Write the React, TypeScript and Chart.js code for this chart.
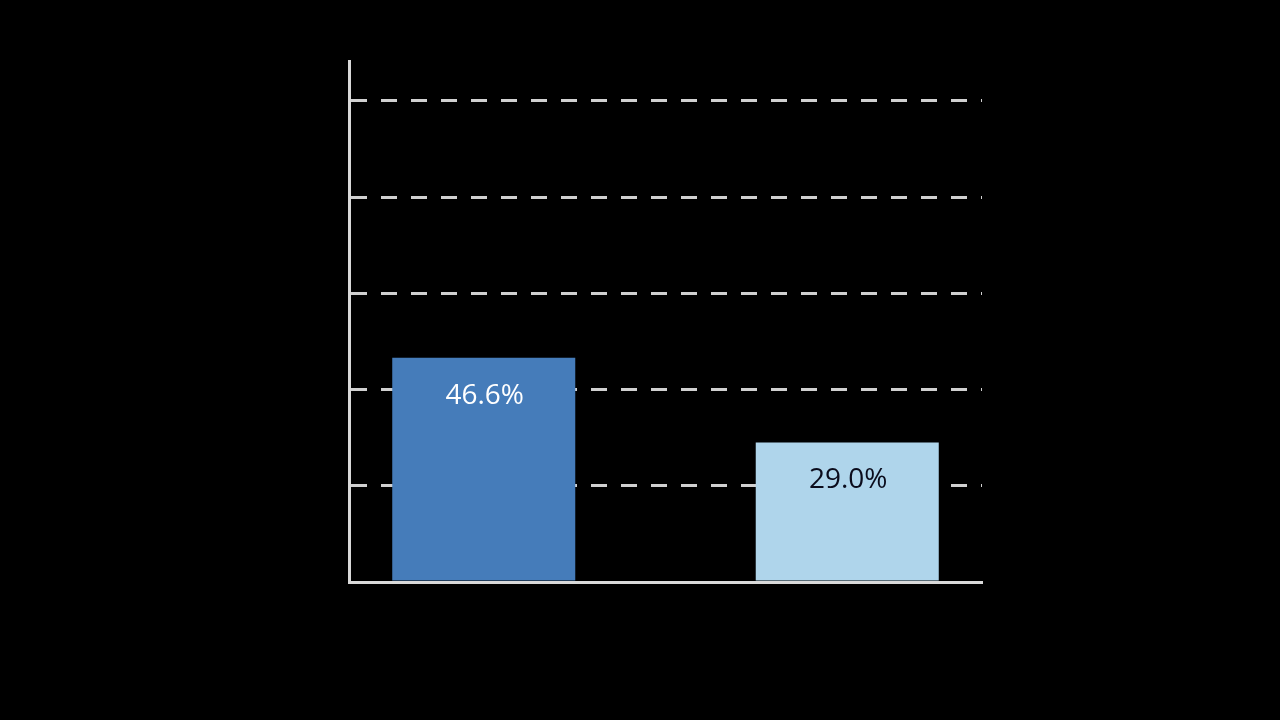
import React, { useEffect, useRef } from "react";
import { Chart, registerables } from "chart.js";

Chart.register(...registerables);

const categories = ["A", "B"];
const seriesFirst = [46.6, null];
const seriesSecond = [null, 29.0];
const valueLabels = ["46.6%", "29.0%"];
const yTickStep = 20;
const yMax = 108.3;

const labelPlugin = {
  id: "valueLabels",
  afterDatasetsDraw(chart: any) {
    const ctx = chart.ctx;
    ctx.save();
    ctx.font = '28px "Open Sans"';
    ctx.textAlign = "center";
    ctx.textBaseline = "middle";
    chart.data.datasets.forEach((ds: any, di: number) => {
      const meta = chart.getDatasetMeta(di);
      meta.data.forEach((bar: any, i: number) => {
        const v = ds.data[i];
        if (v === null || v === undefined) return;
        ctx.fillStyle = di === 0 ? "#ffffff" : "#0b0c1c";
        ctx.fillText(valueLabels[i], bar.x + 1, bar.y + 38);
      });
    });
    ctx.restore();
  },
};

export default function App() {
  const ref = useRef<HTMLCanvasElement>(null);
  useEffect(() => {
    document.body.style.margin = "0";
    document.body.style.background = "#000";
    const chart = new Chart(ref.current!, {
      type: "bar",
      data: {
        labels: categories,
        datasets: [
          { data: seriesFirst as any, backgroundColor: "#457cba", borderWidth: 0 },
          { data: seriesSecond as any, backgroundColor: "#afd5eb", borderWidth: 0 },
        ],
      },
      options: {
        animation: false,
        responsive: false,
        maintainAspectRatio: false,
        layout: { padding: { left: 349, right: 298, top: 61, bottom: 138 } },
        datasets: { bar: { categoryPercentage: 0.297, barPercentage: 3.894 } } as any,
        plugins: { legend: { display: false }, tooltip: { enabled: false } },
        scales: {
          x: {
            afterFit: (s: any) => { s.height = 0; },
            ticks: { display: false },
            grid: { display: false, drawTicks: false },
            border: { display: true, color: "#d9d9d9", width: 3 },
          },
          y: {
            min: 0,
            max: yMax,
            afterFit: (s: any) => { s.width = 0; },
            ticks: { display: false, stepSize: yTickStep, includeBounds: false },
            grid: {
              drawTicks: false,
              lineWidth: 3,
              color: (c: any) => (c.tick && c.tick.value === 0 ? "rgba(0,0,0,0)" : "#d0d0d0"),
            },
            border: { display: true, color: "#d9d9d9", width: 3, dash: [16, 14] },
          },
        },
      },
      plugins: [labelPlugin],
    });
    return () => chart.destroy();
  }, []);
  return (
    <div style={{ width: 1280, height: 720, background: "#000" }}>
      <canvas ref={ref} width={1280} height={720} style={{ display: "block" }} />
    </div>
  );
}
